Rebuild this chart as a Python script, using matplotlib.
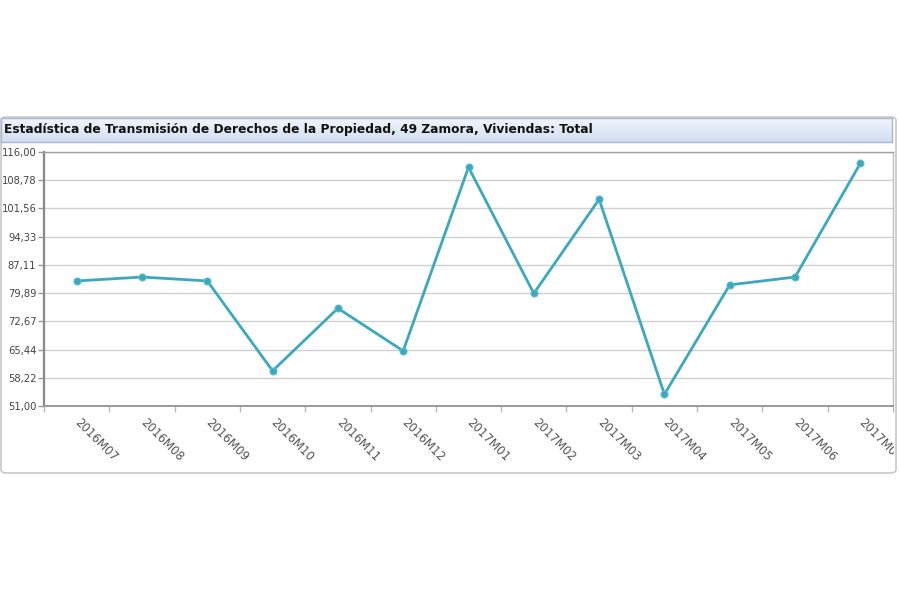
import matplotlib.pyplot as plt
from matplotlib.patches import FancyBboxPatch
from matplotlib.colors import LinearSegmentedColormap
from matplotlib.transforms import Bbox, ScaledTranslation
import numpy as np

# Data
periods = ["2016M07", "2016M08", "2016M09", "2016M10", "2016M11", "2016M12",
           "2017M01", "2017M02", "2017M03", "2017M04", "2017M05", "2017M06", "2017M07"]
values = [83.0, 84.0, 83.0, 60.0, 76.0, 65.1, 112.1, 79.8, 103.9, 54.0, 82.0, 84.0, 113.1]
y_min, y_max = 51.0, 116.0
title = "Estadística de Transmisión de Derechos de la Propiedad, 49 Zamora, Viviendas: Total"

W, H = 900, 595
fig = plt.figure(figsize=(9, 5.95), dpi=100)

def fx(px):
    return px / W

def fy(py):
    return 1 - py / H

# Outer card (behind everything)
card = FancyBboxPatch((fx(1), fy(473)), fx(896) - fx(1), fy(117) - fy(473),
                      boxstyle="round,pad=0,rounding_size=0.006",
                      transform=fig.transFigure, facecolor="white",
                      edgecolor="#c8c8c8", linewidth=1.2, zorder=-10)
fig.patches.append(card)

# Title bar with a light blue gradient
bar_ax = fig.add_axes([fx(1), fy(142), fx(892) - fx(1), fy(118) - fy(142)])
grad = np.linspace(0, 1, 50).reshape(-1, 1)
bar_ax.imshow(grad, aspect="auto",
              cmap=LinearSegmentedColormap.from_list("bar", ["#f1f5fc", "#d3def1"]),
              extent=[0, 1, 0, 1], origin="upper")
bar_ax.set_xticks([])
bar_ax.set_yticks([])
for s in bar_ax.spines.values():
    s.set_color("#a9b8d2")
    s.set_linewidth(1)
fig.text(fx(4), fy(130), title, fontsize=8.8, fontweight="bold", color="#111111",
         ha="left", va="center")

# Plot area
ax = fig.add_axes([fx(44), fy(406), fx(893) - fx(44), fy(152) - fy(406)])
x = np.arange(len(periods))
ax.plot(x, values, color="#3ba9bc", linewidth=2, marker="o", markersize=5,
        markerfacecolor="#3ba9bc", markeredgecolor="#5cbccb", markeredgewidth=0.8,
        zorder=3)

ax.set_xlim(-0.5, len(periods) - 0.5)
ax.set_ylim(y_min, y_max)

yticks = np.linspace(y_min, y_max, 10)
ax.set_yticks(yticks)
ax.set_yticklabels([f"{v:.2f}".replace(".", ",") for v in yticks])
ax.grid(axis="y", color="#d0d0d0", linewidth=1)
ax.set_axisbelow(True)

ax.set_xticks(x)
ax.set_xticks(np.arange(len(periods) + 1) - 0.5, minor=True)
labels = ax.set_xticklabels(periods, rotation=-45, ha="left", va="top",
                            rotation_mode="anchor")
ax.tick_params(axis="x", which="major", length=0, pad=7, labelsize=8.5,
               labelcolor="#555555")
ax.tick_params(axis="x", which="minor", length=4, color="#bbbbbb", width=1)
ax.tick_params(axis="y", length=4, color="#999999", width=1, pad=1.5,
               labelsize=7.2, labelcolor="#444444")

shift = ScaledTranslation(5 / 100, 0, fig.dpi_scale_trans)
for lab in labels:
    lab.set_transform(lab.get_transform() + shift)

for name, s in ax.spines.items():
    s.set_color("#a0a0a0")
    s.set_linewidth(1)
ax.spines["left"].set_color("#888888")
ax.spines["left"].set_linewidth(1.6)
ax.spines["bottom"].set_color("#999999")
ax.spines["bottom"].set_linewidth(1.4)
ax.spines["right"].set_color("#c0c0c0")

# Last label is cut off by the card edge in the original
clip = Bbox.from_extents(0, 0, 894, H)
labels[-1].set_clip_box(clip)
labels[-1].set_clip_on(True)

fig.savefig("out.png", dpi=100)
